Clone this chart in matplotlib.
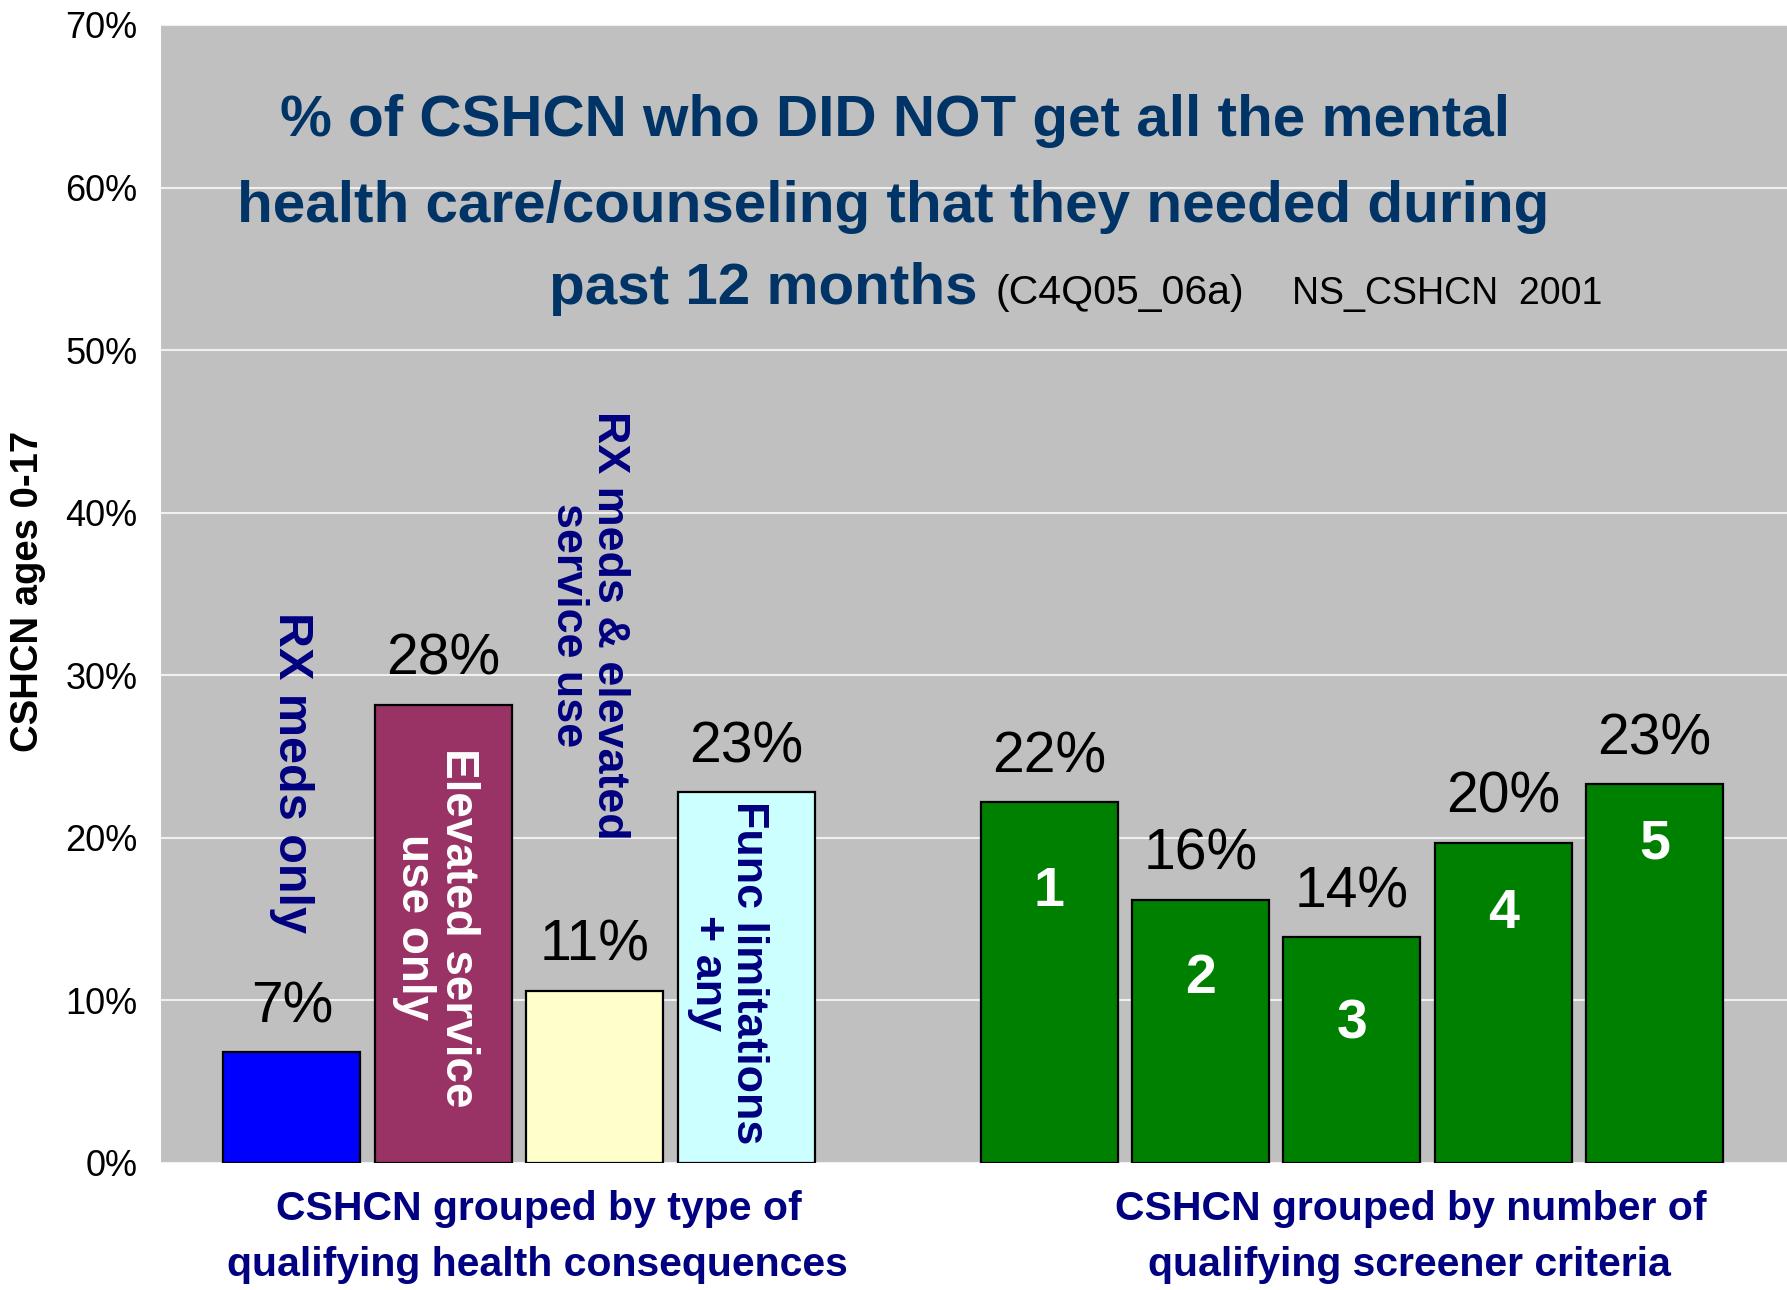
import matplotlib
matplotlib.use('Agg')
import matplotlib.pyplot as plt

plt.rcParams['font.family'] = ['Liberation Sans', 'DejaVu Sans']

# ---------------- data ----------------
y_ticks = [0, 10, 20, 30, 40, 50, 60, 70]
y_tick_labels = ['0%', '10%', '20%', '30%', '40%', '50%', '60%', '70%']

type_positions = [0, 1, 2, 3]
type_values = [6.8, 28.2, 10.6, 22.8]
type_names = ['RX meds only', 'Elevated service\nuse only',
              'RX meds & elevated\nservice use', 'Func limitations\n+ any']

count_positions = [5, 6, 7, 8, 9]
count_values = [22.2, 16.2, 13.9, 19.7, 23.3]
count_names = ['1', '2', '3', '4', '5']

title_line1 = '% of CSHCN who DID NOT get all the mental'
title_line2 = 'health care/counseling that they needed during'
title_line3 = 'past 12 months'
title_code = '(C4Q05_06a)'
title_source = 'NS_CSHCN  2001'
y_label = 'CSHCN ages 0-17'
group1_lines = ['CSHCN grouped by type of', 'qualifying health consequences']
group2_lines = ['CSHCN grouped by number of', 'qualifying screener criteria']

# ---------------- style ----------------
type_colors = ['#0000FF', '#993366', '#FFFFCC', '#CCFFFF']
count_color = '#008000'
bg = '#C0C0C0'
title_color = '#003366'
navy = '#000080'

W, H = 1787, 1290
def fx(px):
    return px / W
def fy(py):
    return 1 - py / H

fig = plt.figure(figsize=(W / 100, H / 100), dpi=100)
ax = fig.add_axes([fx(161), 127 / H, (W - 161) / W, (1163 - 25) / H])
ax.set_facecolor(bg)

bw = 0.905
ax.bar(type_positions, type_values, width=bw, color=type_colors,
       edgecolor='black', linewidth=1.6, zorder=2)
ax.bar(count_positions, count_values, width=bw, color=count_color,
       edgecolor='black', linewidth=1.6, zorder=2)

ax.set_xlim(-0.865, 9.874)
ax.set_ylim(0, 70)
ax.set_yticks(y_ticks)
ax.set_yticklabels(y_tick_labels, fontsize=26)
ax.tick_params(axis='y', length=0, pad=17)
ax.set_xticks([])
for s in ax.spines.values():
    s.set_visible(False)
ax.yaxis.grid(True, color='#F0F0F0', linewidth=1.5, zorder=1)
ax.set_axisbelow(True)

# value labels
for x, v in zip(type_positions + count_positions, type_values + count_values):
    ax.annotate(f'{round(v)}%', xy=(x, v), xytext=(0, 21.6),
                textcoords='offset points', ha='center', va='baseline',
                fontsize=41, color='black', zorder=4)

# rotated category labels
rot_kw = dict(rotation=270, ha='center', va='center', multialignment='center',
              weight='bold', linespacing=1.0, zorder=5)
ax.text(0.0, 24.0, type_names[0], color=navy, fontsize=35, **rot_kw)
ax.text(0.95, 14.5, type_names[1], color='white', fontsize=33, **rot_kw)
ax.text(1.96, 33.1, type_names[2], color=navy, fontsize=32.3, **rot_kw)
ax.text(2.88, 11.7, type_names[3], color=navy, fontsize=32.3, **rot_kw)

# numbers inside green bars
num_y = [16.7, 11.3, 8.5, 15.3, 19.6]
for x, ny, n in zip(count_positions, num_y, count_names):
    ax.text(x, ny, n, ha='center', va='center', fontsize=40, weight='bold',
            color='white', zorder=5)

# title
fig.text(fx(895), fy(136), title_line1, ha='center', va='baseline',
         fontsize=42, weight='bold', color=title_color)
fig.text(fx(893), fy(222), title_line2, ha='center', va='baseline',
         fontsize=42, weight='bold', color=title_color)
fig.text(fx(549), fy(304), title_line3, ha='left', va='baseline',
         fontsize=42, weight='bold', color=title_color)
fig.text(fx(995), fy(304), title_code, ha='left', va='baseline',
         fontsize=29.5, color='black')
fig.text(fx(1292), fy(304), title_source, ha='left', va='baseline',
         fontsize=27, color='black')

# y label
fig.text(fx(28), fy(591), y_label, rotation=90, ha='center', va='center',
         fontsize=27.5, weight='bold', color='black')

# group labels
for line, cx, by in zip(group1_lines, [539, 537], [1220, 1276]):
    fig.text(fx(cx), fy(by), line, ha='center', va='baseline', fontsize=29.5,
             weight='bold', color=navy)
for line, cx, by in zip(group2_lines, [1411, 1409], [1220, 1276]):
    fig.text(fx(cx), fy(by), line, ha='center', va='baseline', fontsize=29.5,
             weight='bold', color=navy)

fig.savefig('out.png', dpi=100, facecolor='white')
